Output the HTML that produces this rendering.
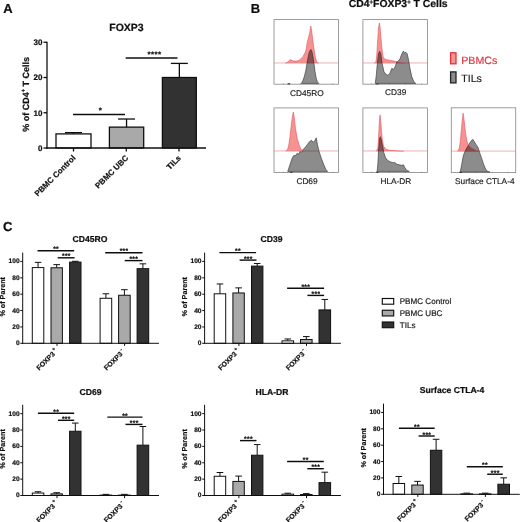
<!DOCTYPE html>
<html><head><meta charset="utf-8"><title>Figure</title>
<style>html,body{margin:0;padding:0;background:#fff;}body{width:520px;height:522px;overflow:hidden;font-family:"Liberation Sans", sans-serif;}svg{display:block;}</style>
</head><body>
<svg width="520" height="522" viewBox="0 0 520 522" font-family='"Liberation Sans", sans-serif' shape-rendering="geometricPrecision" text-rendering="geometricPrecision">
<rect width="520" height="522" fill="#fff"/>
<defs><filter id="soft" x="0" y="0" width="100%" height="100%" filterUnits="userSpaceOnUse"><feGaussianBlur stdDeviation="0.38"/></filter></defs>
<g filter="url(#soft)">
<rect width="520" height="522" fill="#fff"/>
<text x="3.3" y="13.1" font-size="13" font-weight="bold" text-anchor="start" fill="#111111" stroke="#111111" stroke-width="0.22" >A</text>
<text x="250.8" y="12.9" font-size="13" font-weight="bold" text-anchor="start" fill="#111111" stroke="#111111" stroke-width="0.22" >B</text>
<text x="3.1" y="230.9" font-size="13" font-weight="bold" text-anchor="start" fill="#111111" stroke="#111111" stroke-width="0.22" >C</text>
<text x="126.5" y="30.5" font-size="10.5" font-weight="bold" text-anchor="middle" fill="#111111" stroke="#111111" stroke-width="0.22" >FOXP3</text>
<line x1="73.5" y1="133.9" x2="73.5" y2="132.631" stroke="#111111" stroke-width="1.3" stroke-linecap="butt"/>
<line x1="65.0" y1="132.631" x2="82.0" y2="132.631" stroke="#111111" stroke-width="1.3" stroke-linecap="butt"/>
<rect x="56" y="133.90" width="35" height="14.10" fill="#ffffff" stroke="#111111" stroke-width="1.3"/>
<line x1="126.55" y1="127.132" x2="126.55" y2="119.0245" stroke="#111111" stroke-width="1.3" stroke-linecap="butt"/>
<line x1="118.05" y1="119.0245" x2="135.05" y2="119.0245" stroke="#111111" stroke-width="1.3" stroke-linecap="butt"/>
<rect x="109.4" y="127.13" width="34.29999999999998" height="20.87" fill="#a9a9a9" stroke="#111111" stroke-width="1.3"/>
<line x1="179.35000000000002" y1="77.5" x2="179.35000000000002" y2="63.4" stroke="#111111" stroke-width="1.3" stroke-linecap="butt"/>
<line x1="170.85000000000002" y1="63.4" x2="187.85000000000002" y2="63.4" stroke="#111111" stroke-width="1.3" stroke-linecap="butt"/>
<rect x="162.4" y="77.50" width="33.900000000000006" height="70.50" fill="#333333" stroke="#111111" stroke-width="1.3"/>
<line x1="47" y1="41.8" x2="47" y2="148.65" stroke="#111111" stroke-width="1.3" stroke-linecap="butt"/>
<line x1="46.35" y1="148" x2="206" y2="148" stroke="#111111" stroke-width="1.3" stroke-linecap="butt"/>
<line x1="43.5" y1="148.0" x2="47" y2="148.0" stroke="#111111" stroke-width="1.3" stroke-linecap="butt"/>
<text x="42.5" y="150.9" font-size="8" font-weight="bold" text-anchor="end" fill="#111111" stroke="#111111" stroke-width="0.22" >0</text>
<line x1="43.5" y1="112.75" x2="47" y2="112.75" stroke="#111111" stroke-width="1.3" stroke-linecap="butt"/>
<text x="42.5" y="115.65" font-size="8" font-weight="bold" text-anchor="end" fill="#111111" stroke="#111111" stroke-width="0.22" >10</text>
<line x1="43.5" y1="77.5" x2="47" y2="77.5" stroke="#111111" stroke-width="1.3" stroke-linecap="butt"/>
<text x="42.5" y="80.4" font-size="8" font-weight="bold" text-anchor="end" fill="#111111" stroke="#111111" stroke-width="0.22" >20</text>
<line x1="43.5" y1="42.25" x2="47" y2="42.25" stroke="#111111" stroke-width="1.3" stroke-linecap="butt"/>
<text x="42.5" y="45.15" font-size="8" font-weight="bold" text-anchor="end" fill="#111111" stroke="#111111" stroke-width="0.22" >30</text>
<line x1="73.5" y1="148" x2="73.5" y2="151.5" stroke="#111111" stroke-width="1.3" stroke-linecap="butt"/>
<line x1="126.3" y1="148" x2="126.3" y2="151.5" stroke="#111111" stroke-width="1.3" stroke-linecap="butt"/>
<line x1="179" y1="148" x2="179" y2="151.5" stroke="#111111" stroke-width="1.3" stroke-linecap="butt"/>
<text transform="translate(28.5,94.3) rotate(-90)" font-size="9" font-weight="bold" stroke="#111111" stroke-width="0.22" text-anchor="middle" fill="#111111">% of CD4<tspan font-size="5.5" dy="-3.5">+</tspan><tspan dy="3.5"> T Cells</tspan></text>
<text transform="translate(76.0,158.5) rotate(-45)" font-size="8" font-weight="bold" stroke="#111111" stroke-width="0.22" text-anchor="end" fill="#111111">PBMC Control</text>
<text transform="translate(128.8,158.5) rotate(-45)" font-size="8" font-weight="bold" stroke="#111111" stroke-width="0.22" text-anchor="end" fill="#111111">PBMC UBC</text>
<text transform="translate(181.5,158.5) rotate(-45)" font-size="8" font-weight="bold" stroke="#111111" stroke-width="0.22" text-anchor="end" fill="#111111">TILs</text>
<line x1="73" y1="114.5" x2="125" y2="114.5" stroke="#111111" stroke-width="1.5" stroke-linecap="butt"/>
<text x="100.4" y="112.9" font-size="8" font-weight="bold" text-anchor="middle" fill="#111111" stroke="#111111" stroke-width="0.22" >*</text>
<line x1="125.7" y1="58" x2="177.5" y2="58" stroke="#111111" stroke-width="1.5" stroke-linecap="butt"/>
<text x="154.6" y="56.8" font-size="8" font-weight="bold" text-anchor="middle" fill="#111111" stroke="#111111" stroke-width="0.22" letter-spacing="0.4">****</text>
<rect x="274" y="19.6" width="64.50" height="64.60" fill="#fff" stroke="#8c8c8c" stroke-width="0.85"/>
<g transform="translate(268,14) scale(0.14616)">
<rect x="102" y="475.3084" width="4" height="5" fill="#555"/>
<rect x="222" y="475.3084" width="4" height="5" fill="#555"/>
<rect x="332" y="475.3084" width="4" height="5" fill="#555"/>
<rect x="442" y="475.3084" width="4" height="5" fill="#555"/>
<rect x="134" y="474.3084" width="18" height="7" fill="#222"/>
<polygon points="228,475 238,458 248,430 258,390 270,320 282,262 293,243 300,255 306,285 314,335 322,395 330,440 338,465 348,475" fill="#8c8c8c" stroke="#3a3a3a" stroke-width="4.5" stroke-linejoin="round"/>
<g style="mix-blend-mode:multiply"><polygon points="120,337 135,328 152,312 165,318 175,322 195,322 215,316 240,290 255,262 262,240 268,195 275,170 285,130 293,82 300,125 306,175 312,220 318,262 325,300 335,330 345,337" fill="#f79292" stroke="none"/><line x1="43.1" y1="335" x2="480.4" y2="335" stroke="#e2787e" stroke-width="4"/></g>
<polyline points="120,337 135,328 152,312 165,318 175,322 195,322 215,316 240,290 255,262 262,240 268,195 275,170 285,130 293,82 300,125 306,175 312,220 318,262 325,300 335,330 345,337" fill="none" stroke="#e0525a" stroke-width="4" stroke-linejoin="round"/>
</g>
<text x="306.8" y="95.5" font-size="8.3" font-weight="normal" text-anchor="middle" fill="#222" stroke="#222" stroke-width="0.18" >CD45RO</text>
<rect x="362.9" y="19.6" width="64.50" height="64.60" fill="#fff" stroke="#8c8c8c" stroke-width="0.85"/>
<g transform="translate(357,14) scale(0.14616)">
<rect x="98" y="475.3084" width="4" height="5" fill="#555"/>
<rect x="218" y="475.3084" width="4" height="5" fill="#555"/>
<rect x="328" y="475.3084" width="4" height="5" fill="#555"/>
<rect x="438" y="475.3084" width="4" height="5" fill="#555"/>
<rect x="130" y="474.3084" width="18" height="7" fill="#222"/>
<polygon points="125,475 132,420 140,330 148,270 155,255 163,272 172,340 185,395 198,413 212,420 225,405 238,372 250,380 262,358 272,330 283,322 295,305 308,270 318,253 326,268 334,262 343,272 352,310 362,370 375,430 390,466 402,475" fill="#8c8c8c" stroke="#3a3a3a" stroke-width="4.5" stroke-linejoin="round"/>
<g style="mix-blend-mode:multiply"><polygon points="118,337 130,328 136,270 142,170 148,90 153,62 158,90 163,150 170,230 178,290 188,308 205,313 230,318 270,325 300,332 340,337" fill="#f79292" stroke="none"/><line x1="42.4" y1="335" x2="479.7" y2="335" stroke="#e2787e" stroke-width="4"/></g>
<polyline points="118,337 130,328 136,270 142,170 148,90 153,62 158,90 163,150 170,230 178,290 188,308 205,313 230,318 270,325 300,332 340,337" fill="none" stroke="#e0525a" stroke-width="4" stroke-linejoin="round"/>
</g>
<text x="395.7" y="95.4" font-size="8.3" font-weight="normal" text-anchor="middle" fill="#222" stroke="#222" stroke-width="0.18" >CD39</text>
<rect x="274" y="107.9" width="64.50" height="64.60" fill="#fff" stroke="#8c8c8c" stroke-width="0.85"/>
<g transform="translate(268,102) scale(0.14616)">
<rect x="102" y="477.361" width="4" height="5" fill="#555"/>
<rect x="222" y="477.361" width="4" height="5" fill="#555"/>
<rect x="332" y="477.361" width="4" height="5" fill="#555"/>
<rect x="442" y="477.361" width="4" height="5" fill="#555"/>
<rect x="150" y="476.361" width="18" height="7" fill="#222"/>
<polygon points="135,475 150,430 165,385 175,368 190,365 200,350 210,358 218,338 228,345 240,325 255,310 270,290 285,270 298,262 310,275 322,262 330,245 338,290 350,340 365,385 380,425 395,460 408,475" fill="#8c8c8c" stroke="#3a3a3a" stroke-width="4.5" stroke-linejoin="round"/>
<g style="mix-blend-mode:multiply"><polygon points="122,337 135,322 142,295 150,240 160,150 168,90 174,68 180,108 188,180 200,250 215,300 230,330 245,337" fill="#f79292" stroke="none"/><line x1="43.1" y1="335" x2="480.4" y2="335" stroke="#e2787e" stroke-width="4"/></g>
<polyline points="122,337 135,322 142,295 150,240 160,150 168,90 174,68 180,108 188,180 200,250 215,300 230,330 245,337" fill="none" stroke="#e0525a" stroke-width="4" stroke-linejoin="round"/>
</g>
<text x="307" y="183.7" font-size="8.3" font-weight="normal" text-anchor="middle" fill="#222" stroke="#222" stroke-width="0.18" >CD69</text>
<rect x="362.9" y="107.9" width="64.50" height="64.60" fill="#fff" stroke="#8c8c8c" stroke-width="0.85"/>
<g transform="translate(357,102) scale(0.14616)">
<rect x="98" y="477.361" width="4" height="5" fill="#555"/>
<rect x="218" y="477.361" width="4" height="5" fill="#555"/>
<rect x="328" y="477.361" width="4" height="5" fill="#555"/>
<rect x="438" y="477.361" width="4" height="5" fill="#555"/>
<rect x="130" y="476.361" width="18" height="7" fill="#222"/>
<polygon points="138,475 143,420 148,320 154,250 160,238 167,258 175,300 183,345 195,380 210,400 230,410 250,415 258,412 270,425 290,430 305,433 318,430 328,450 340,468 358,475" fill="#8c8c8c" stroke="#3a3a3a" stroke-width="4.5" stroke-linejoin="round"/>
<g style="mix-blend-mode:multiply"><polygon points="132,337 143,315 147,250 151,170 155,110 158,88 162,125 167,190 173,255 181,300 195,322 220,330 260,333 320,337" fill="#f79292" stroke="none"/><line x1="42.4" y1="335" x2="479.7" y2="335" stroke="#e2787e" stroke-width="4"/></g>
<polyline points="132,337 143,315 147,250 151,170 155,110 158,88 162,125 167,190 173,255 181,300 195,322 220,330 260,333 320,337" fill="none" stroke="#e0525a" stroke-width="4" stroke-linejoin="round"/>
</g>
<text x="395.9" y="183.7" font-size="8.3" font-weight="normal" text-anchor="middle" fill="#222" stroke="#222" stroke-width="0.18" >HLA-DR</text>
<rect x="451.3" y="107.8" width="64.40" height="64.80" fill="#fff" stroke="#8c8c8c" stroke-width="0.85"/>
<g transform="translate(446,102) scale(0.14231)">
<rect x="95" y="491.10619999999994" width="4" height="5" fill="#555"/>
<rect x="215" y="491.10619999999994" width="4" height="5" fill="#555"/>
<rect x="325" y="491.10619999999994" width="4" height="5" fill="#555"/>
<rect x="435" y="491.10619999999994" width="4" height="5" fill="#555"/>
<rect x="95" y="490.10619999999994" width="18" height="7" fill="#222"/>
<polygon points="100,492 110,440 122,375 135,345 148,320 160,300 175,275 188,262 200,280 212,300 225,320 238,360 252,400 265,440 280,475 295,489 308,492" fill="#8c8c8c" stroke="#3a3a3a" stroke-width="4.5" stroke-linejoin="round"/>
<g style="mix-blend-mode:multiply"><polygon points="82,347 93,325 100,280 106,215 112,150 120,78 127,125 133,180 140,235 148,278 160,305 180,322 200,332 220,341 238,347" fill="#f79292" stroke="none"/><line x1="39.2" y1="345" x2="487.8" y2="345" stroke="#e2787e" stroke-width="4"/></g>
<polyline points="82,347 93,325 100,280 106,215 112,150 120,78 127,125 133,180 140,235 148,278 160,305 180,322 200,332 220,341 238,347" fill="none" stroke="#e0525a" stroke-width="4" stroke-linejoin="round"/>
</g>
<text x="484.8" y="183.7" font-size="8.3" font-weight="normal" text-anchor="middle" fill="#222" stroke="#222" stroke-width="0.18" >Surface CTLA-4</text>
<text x="398.2" y="7.4" font-size="10.4" font-weight="bold" stroke="#111111" stroke-width="0.22" text-anchor="middle" fill="#111111">CD4<tspan font-size="6" dy="-3.2">+</tspan><tspan dy="3.2">FOXP3</tspan><tspan font-size="6" dy="-3.2">+</tspan><tspan dy="3.2"> T Cells</tspan></text>
<rect x="450.6" y="52.8" width="5.4" height="11" fill="#f6938f" stroke="#e0323c" stroke-width="1.3"/>
<text x="461.3" y="64" font-size="10.6" font-weight="normal" text-anchor="start" fill="#dc3540" stroke="#dc3540" stroke-width="0.18" >PBMCs</text>
<rect x="450.6" y="71.9" width="5.4" height="11" fill="#8c8c8c" stroke="#222" stroke-width="1.3"/>
<text x="461.3" y="82.2" font-size="10.6" font-weight="normal" text-anchor="start" fill="#222" stroke="#222" stroke-width="0.18" >TILs</text>
<text x="90" y="242.3" font-size="8.6" font-weight="bold" text-anchor="middle" fill="#111111" stroke="#111111" stroke-width="0.22" >CD45RO</text>
<line x1="38.05" y1="267.58875" x2="38.05" y2="262.35035" stroke="#111111" stroke-width="1.0" stroke-linecap="butt"/>
<line x1="34.75" y1="262.35035" x2="41.349999999999994" y2="262.35035" stroke="#111111" stroke-width="1.0" stroke-linecap="butt"/>
<rect x="32.30" y="267.59" width="11.50" height="75.71" fill="#ffffff" stroke="#111111" stroke-width="1.0"/>
<line x1="56.7" y1="267.75245" x2="56.7" y2="264.64215" stroke="#111111" stroke-width="1.0" stroke-linecap="butt"/>
<line x1="53.400000000000006" y1="264.64215" x2="60.0" y2="264.64215" stroke="#111111" stroke-width="1.0" stroke-linecap="butt"/>
<rect x="51.00" y="267.75" width="11.40" height="75.55" fill="#a9a9a9" stroke="#111111" stroke-width="1.0"/>
<line x1="75.3" y1="262.1048" x2="75.3" y2="261.28630000000004" stroke="#111111" stroke-width="1.0" stroke-linecap="butt"/>
<line x1="72.0" y1="261.28630000000004" x2="78.6" y2="261.28630000000004" stroke="#111111" stroke-width="1.0" stroke-linecap="butt"/>
<rect x="69.60" y="262.10" width="11.40" height="81.20" fill="#333333" stroke="#111111" stroke-width="1.0"/>
<line x1="105.9" y1="298.2825" x2="105.9" y2="293.78075" stroke="#111111" stroke-width="1.0" stroke-linecap="butt"/>
<line x1="102.60000000000001" y1="293.78075" x2="109.2" y2="293.78075" stroke="#111111" stroke-width="1.0" stroke-linecap="butt"/>
<rect x="100.10" y="298.28" width="11.60" height="45.02" fill="#ffffff" stroke="#111111" stroke-width="1.0"/>
<line x1="124.4" y1="295.25405" x2="124.4" y2="289.68825" stroke="#111111" stroke-width="1.0" stroke-linecap="butt"/>
<line x1="121.10000000000001" y1="289.68825" x2="127.7" y2="289.68825" stroke="#111111" stroke-width="1.0" stroke-linecap="butt"/>
<rect x="118.60" y="295.25" width="11.60" height="48.05" fill="#a9a9a9" stroke="#111111" stroke-width="1.0"/>
<line x1="142.89999999999998" y1="268.6528" x2="142.89999999999998" y2="263.82365" stroke="#111111" stroke-width="1.0" stroke-linecap="butt"/>
<line x1="139.59999999999997" y1="263.82365" x2="146.2" y2="263.82365" stroke="#111111" stroke-width="1.0" stroke-linecap="butt"/>
<rect x="137.10" y="268.65" width="11.60" height="74.65" fill="#333333" stroke="#111111" stroke-width="1.0"/>
<line x1="22.7" y1="252.60000000000002" x2="22.7" y2="343.8" stroke="#111111" stroke-width="1.0" stroke-linecap="butt"/>
<line x1="22.2" y1="343.3" x2="159.0" y2="343.3" stroke="#111111" stroke-width="1.0" stroke-linecap="butt"/>
<line x1="20.3" y1="343.3" x2="22.7" y2="343.3" stroke="#111111" stroke-width="1.0" stroke-linecap="butt"/>
<text x="19.599999999999998" y="345.25" font-size="6.6" font-weight="bold" text-anchor="end" fill="#111111" stroke="#111111" stroke-width="0.22" >0</text>
<line x1="20.3" y1="326.93" x2="22.7" y2="326.93" stroke="#111111" stroke-width="1.0" stroke-linecap="butt"/>
<text x="19.599999999999998" y="328.88" font-size="6.6" font-weight="bold" text-anchor="end" fill="#111111" stroke="#111111" stroke-width="0.22" >20</text>
<line x1="20.3" y1="310.56" x2="22.7" y2="310.56" stroke="#111111" stroke-width="1.0" stroke-linecap="butt"/>
<text x="19.599999999999998" y="312.51" font-size="6.6" font-weight="bold" text-anchor="end" fill="#111111" stroke="#111111" stroke-width="0.22" >40</text>
<line x1="20.3" y1="294.19" x2="22.7" y2="294.19" stroke="#111111" stroke-width="1.0" stroke-linecap="butt"/>
<text x="19.599999999999998" y="296.14" font-size="6.6" font-weight="bold" text-anchor="end" fill="#111111" stroke="#111111" stroke-width="0.22" >60</text>
<line x1="20.3" y1="277.82" x2="22.7" y2="277.82" stroke="#111111" stroke-width="1.0" stroke-linecap="butt"/>
<text x="19.599999999999998" y="279.77" font-size="6.6" font-weight="bold" text-anchor="end" fill="#111111" stroke="#111111" stroke-width="0.22" >80</text>
<line x1="20.3" y1="261.45000000000005" x2="22.7" y2="261.45000000000005" stroke="#111111" stroke-width="1.0" stroke-linecap="butt"/>
<text x="19.599999999999998" y="263.40000000000003" font-size="6.6" font-weight="bold" text-anchor="end" fill="#111111" stroke="#111111" stroke-width="0.22" >100</text>
<line x1="57.0" y1="343.3" x2="57.0" y2="345.90000000000003" stroke="#111111" stroke-width="1.0" stroke-linecap="butt"/>
<g transform="translate(55.40,354.60) rotate(-45)" font-weight="bold" fill="#111111" stroke="#111111" stroke-width="0.2"><text font-size="7" text-anchor="end">FOXP3</text><text x="1.3" y="-3.6" font-size="5">+</text></g>
<line x1="124.60000000000001" y1="343.3" x2="124.60000000000001" y2="345.90000000000003" stroke="#111111" stroke-width="1.0" stroke-linecap="butt"/>
<g transform="translate(123.00,354.60) rotate(-45)" font-weight="bold" fill="#111111" stroke="#111111" stroke-width="0.2"><text font-size="7" text-anchor="end">FOXP3</text><text x="1.3" y="-3.6" font-size="5">-</text></g>
<text transform="translate(5.00,296.80) rotate(-90)" font-size="7.2" font-weight="bold" stroke="#111111" stroke-width="0.2" text-anchor="middle" fill="#111111">% of Parent</text>
<line x1="37.5" y1="250.7" x2="74.2" y2="250.7" stroke="#111111" stroke-width="1.45" stroke-linecap="butt"/>
<text x="56.05" y="251.29999999999998" font-size="6.6" font-weight="bold" text-anchor="middle" fill="#111111" stroke="#111111" stroke-width="0.22" letter-spacing="0.35">**</text>
<line x1="57.7" y1="257.8" x2="74.6" y2="257.8" stroke="#111111" stroke-width="1.45" stroke-linecap="butt"/>
<text x="66.35000000000001" y="258.40000000000003" font-size="6.6" font-weight="bold" text-anchor="middle" fill="#111111" stroke="#111111" stroke-width="0.22" letter-spacing="0.35">***</text>
<line x1="105.2" y1="252.8" x2="142.5" y2="252.8" stroke="#111111" stroke-width="1.45" stroke-linecap="butt"/>
<text x="124.05000000000001" y="253.4" font-size="6.6" font-weight="bold" text-anchor="middle" fill="#111111" stroke="#111111" stroke-width="0.22" letter-spacing="0.35">***</text>
<line x1="124.7" y1="260.6" x2="142.5" y2="260.6" stroke="#111111" stroke-width="1.45" stroke-linecap="butt"/>
<text x="133.79999999999998" y="261.20000000000005" font-size="6.6" font-weight="bold" text-anchor="middle" fill="#111111" stroke="#111111" stroke-width="0.22" letter-spacing="0.35">***</text>
<text x="271.5" y="242.3" font-size="8.6" font-weight="bold" text-anchor="middle" fill="#111111" stroke="#111111" stroke-width="0.22" >CD39</text>
<line x1="219.95" y1="293.78075" x2="219.95" y2="283.95875" stroke="#111111" stroke-width="1.0" stroke-linecap="butt"/>
<line x1="216.64999999999998" y1="283.95875" x2="223.25" y2="283.95875" stroke="#111111" stroke-width="1.0" stroke-linecap="butt"/>
<rect x="214.20" y="293.78" width="11.50" height="49.52" fill="#ffffff" stroke="#111111" stroke-width="1.0"/>
<line x1="238.60000000000002" y1="292.96225000000004" x2="238.60000000000002" y2="287.88755000000003" stroke="#111111" stroke-width="1.0" stroke-linecap="butt"/>
<line x1="235.3" y1="287.88755000000003" x2="241.90000000000003" y2="287.88755000000003" stroke="#111111" stroke-width="1.0" stroke-linecap="butt"/>
<rect x="232.90" y="292.96" width="11.40" height="50.34" fill="#a9a9a9" stroke="#111111" stroke-width="1.0"/>
<line x1="257.2" y1="266.11545" x2="257.2" y2="263.49625000000003" stroke="#111111" stroke-width="1.0" stroke-linecap="butt"/>
<line x1="253.89999999999998" y1="263.49625000000003" x2="260.5" y2="263.49625000000003" stroke="#111111" stroke-width="1.0" stroke-linecap="butt"/>
<rect x="251.50" y="266.12" width="11.40" height="77.18" fill="#333333" stroke="#111111" stroke-width="1.0"/>
<line x1="287.8" y1="340.84450000000004" x2="287.8" y2="338.96195000000006" stroke="#111111" stroke-width="1.0" stroke-linecap="butt"/>
<line x1="284.5" y1="338.96195000000006" x2="291.1" y2="338.96195000000006" stroke="#111111" stroke-width="1.0" stroke-linecap="butt"/>
<rect x="282.00" y="340.84" width="11.60" height="2.46" fill="#ffffff" stroke="#111111" stroke-width="1.0"/>
<line x1="306.3" y1="339.5349" x2="306.3" y2="336.5883" stroke="#111111" stroke-width="1.0" stroke-linecap="butt"/>
<line x1="303.0" y1="336.5883" x2="309.6" y2="336.5883" stroke="#111111" stroke-width="1.0" stroke-linecap="butt"/>
<rect x="300.50" y="339.53" width="11.60" height="3.77" fill="#a9a9a9" stroke="#111111" stroke-width="1.0"/>
<line x1="324.8" y1="309.90520000000004" x2="324.8" y2="299.4284" stroke="#111111" stroke-width="1.0" stroke-linecap="butt"/>
<line x1="321.5" y1="299.4284" x2="328.1" y2="299.4284" stroke="#111111" stroke-width="1.0" stroke-linecap="butt"/>
<rect x="319.00" y="309.91" width="11.60" height="33.39" fill="#333333" stroke="#111111" stroke-width="1.0"/>
<line x1="204.6" y1="252.60000000000002" x2="204.6" y2="343.8" stroke="#111111" stroke-width="1.0" stroke-linecap="butt"/>
<line x1="204.1" y1="343.3" x2="340.9" y2="343.3" stroke="#111111" stroke-width="1.0" stroke-linecap="butt"/>
<line x1="202.2" y1="343.3" x2="204.6" y2="343.3" stroke="#111111" stroke-width="1.0" stroke-linecap="butt"/>
<text x="201.5" y="345.25" font-size="6.6" font-weight="bold" text-anchor="end" fill="#111111" stroke="#111111" stroke-width="0.22" >0</text>
<line x1="202.2" y1="326.93" x2="204.6" y2="326.93" stroke="#111111" stroke-width="1.0" stroke-linecap="butt"/>
<text x="201.5" y="328.88" font-size="6.6" font-weight="bold" text-anchor="end" fill="#111111" stroke="#111111" stroke-width="0.22" >20</text>
<line x1="202.2" y1="310.56" x2="204.6" y2="310.56" stroke="#111111" stroke-width="1.0" stroke-linecap="butt"/>
<text x="201.5" y="312.51" font-size="6.6" font-weight="bold" text-anchor="end" fill="#111111" stroke="#111111" stroke-width="0.22" >40</text>
<line x1="202.2" y1="294.19" x2="204.6" y2="294.19" stroke="#111111" stroke-width="1.0" stroke-linecap="butt"/>
<text x="201.5" y="296.14" font-size="6.6" font-weight="bold" text-anchor="end" fill="#111111" stroke="#111111" stroke-width="0.22" >60</text>
<line x1="202.2" y1="277.82" x2="204.6" y2="277.82" stroke="#111111" stroke-width="1.0" stroke-linecap="butt"/>
<text x="201.5" y="279.77" font-size="6.6" font-weight="bold" text-anchor="end" fill="#111111" stroke="#111111" stroke-width="0.22" >80</text>
<line x1="202.2" y1="261.45000000000005" x2="204.6" y2="261.45000000000005" stroke="#111111" stroke-width="1.0" stroke-linecap="butt"/>
<text x="201.5" y="263.40000000000003" font-size="6.6" font-weight="bold" text-anchor="end" fill="#111111" stroke="#111111" stroke-width="0.22" >100</text>
<line x1="238.89999999999998" y1="343.3" x2="238.89999999999998" y2="345.90000000000003" stroke="#111111" stroke-width="1.0" stroke-linecap="butt"/>
<g transform="translate(237.30,354.60) rotate(-45)" font-weight="bold" fill="#111111" stroke="#111111" stroke-width="0.2"><text font-size="7" text-anchor="end">FOXP3</text><text x="1.3" y="-3.6" font-size="5">+</text></g>
<line x1="306.5" y1="343.3" x2="306.5" y2="345.90000000000003" stroke="#111111" stroke-width="1.0" stroke-linecap="butt"/>
<g transform="translate(304.90,354.60) rotate(-45)" font-weight="bold" fill="#111111" stroke="#111111" stroke-width="0.2"><text font-size="7" text-anchor="end">FOXP3</text><text x="1.3" y="-3.6" font-size="5">-</text></g>
<text transform="translate(186.90,296.80) rotate(-90)" font-size="7.2" font-weight="bold" stroke="#111111" stroke-width="0.2" text-anchor="middle" fill="#111111">% of Parent</text>
<line x1="219.4" y1="252.6" x2="256.1" y2="252.6" stroke="#111111" stroke-width="1.45" stroke-linecap="butt"/>
<text x="237.95" y="253.2" font-size="6.6" font-weight="bold" text-anchor="middle" fill="#111111" stroke="#111111" stroke-width="0.22" letter-spacing="0.35">**</text>
<line x1="239.6" y1="260.1" x2="256.5" y2="260.1" stroke="#111111" stroke-width="1.45" stroke-linecap="butt"/>
<text x="248.25" y="260.70000000000005" font-size="6.6" font-weight="bold" text-anchor="middle" fill="#111111" stroke="#111111" stroke-width="0.22" letter-spacing="0.35">***</text>
<line x1="287.1" y1="288.2" x2="324.1" y2="288.2" stroke="#111111" stroke-width="1.45" stroke-linecap="butt"/>
<text x="305.8" y="288.8" font-size="6.6" font-weight="bold" text-anchor="middle" fill="#111111" stroke="#111111" stroke-width="0.22" letter-spacing="0.35">***</text>
<line x1="307.4" y1="295.4" x2="324.1" y2="295.4" stroke="#111111" stroke-width="1.45" stroke-linecap="butt"/>
<text x="315.95" y="296.0" font-size="6.6" font-weight="bold" text-anchor="middle" fill="#111111" stroke="#111111" stroke-width="0.22" letter-spacing="0.35">***</text>
<text x="90.5" y="394.5" font-size="8.6" font-weight="bold" text-anchor="middle" fill="#111111" stroke="#111111" stroke-width="0.22" >CD69</text>
<line x1="38.05" y1="493.0445" x2="38.05" y2="491.73490000000004" stroke="#111111" stroke-width="1.0" stroke-linecap="butt"/>
<line x1="34.75" y1="491.73490000000004" x2="41.349999999999994" y2="491.73490000000004" stroke="#111111" stroke-width="1.0" stroke-linecap="butt"/>
<rect x="32.30" y="493.04" width="11.50" height="2.46" fill="#ffffff" stroke="#111111" stroke-width="1.0"/>
<line x1="56.7" y1="493.863" x2="56.7" y2="492.7171" stroke="#111111" stroke-width="1.0" stroke-linecap="butt"/>
<line x1="53.400000000000006" y1="492.7171" x2="60.0" y2="492.7171" stroke="#111111" stroke-width="1.0" stroke-linecap="butt"/>
<rect x="51.00" y="493.86" width="11.40" height="1.64" fill="#a9a9a9" stroke="#111111" stroke-width="1.0"/>
<line x1="75.3" y1="431.24775" x2="75.3" y2="423.06275" stroke="#111111" stroke-width="1.0" stroke-linecap="butt"/>
<line x1="72.0" y1="423.06275" x2="78.6" y2="423.06275" stroke="#111111" stroke-width="1.0" stroke-linecap="butt"/>
<rect x="69.60" y="431.25" width="11.40" height="64.25" fill="#333333" stroke="#111111" stroke-width="1.0"/>
<line x1="105.9" y1="495.09075" x2="105.9" y2="494.3541" stroke="#111111" stroke-width="1.0" stroke-linecap="butt"/>
<line x1="102.60000000000001" y1="494.3541" x2="109.2" y2="494.3541" stroke="#111111" stroke-width="1.0" stroke-linecap="butt"/>
<rect x="100.10" y="495.09" width="11.60" height="0.41" fill="#ffffff" stroke="#111111" stroke-width="1.0"/>
<line x1="124.4" y1="495.09075" x2="124.4" y2="494.3541" stroke="#111111" stroke-width="1.0" stroke-linecap="butt"/>
<line x1="121.10000000000001" y1="494.3541" x2="127.7" y2="494.3541" stroke="#111111" stroke-width="1.0" stroke-linecap="butt"/>
<rect x="118.60" y="495.09" width="11.60" height="0.41" fill="#a9a9a9" stroke="#111111" stroke-width="1.0"/>
<line x1="142.89999999999998" y1="445.16225" x2="142.89999999999998" y2="426.50045" stroke="#111111" stroke-width="1.0" stroke-linecap="butt"/>
<line x1="139.59999999999997" y1="426.50045" x2="146.2" y2="426.50045" stroke="#111111" stroke-width="1.0" stroke-linecap="butt"/>
<rect x="137.10" y="445.16" width="11.60" height="50.34" fill="#333333" stroke="#111111" stroke-width="1.0"/>
<line x1="22.7" y1="404.8" x2="22.7" y2="496.0" stroke="#111111" stroke-width="1.0" stroke-linecap="butt"/>
<line x1="22.2" y1="495.5" x2="159.0" y2="495.5" stroke="#111111" stroke-width="1.0" stroke-linecap="butt"/>
<line x1="20.3" y1="495.5" x2="22.7" y2="495.5" stroke="#111111" stroke-width="1.0" stroke-linecap="butt"/>
<text x="19.599999999999998" y="497.45" font-size="6.6" font-weight="bold" text-anchor="end" fill="#111111" stroke="#111111" stroke-width="0.22" >0</text>
<line x1="20.3" y1="479.13" x2="22.7" y2="479.13" stroke="#111111" stroke-width="1.0" stroke-linecap="butt"/>
<text x="19.599999999999998" y="481.08" font-size="6.6" font-weight="bold" text-anchor="end" fill="#111111" stroke="#111111" stroke-width="0.22" >20</text>
<line x1="20.3" y1="462.76" x2="22.7" y2="462.76" stroke="#111111" stroke-width="1.0" stroke-linecap="butt"/>
<text x="19.599999999999998" y="464.71" font-size="6.6" font-weight="bold" text-anchor="end" fill="#111111" stroke="#111111" stroke-width="0.22" >40</text>
<line x1="20.3" y1="446.39" x2="22.7" y2="446.39" stroke="#111111" stroke-width="1.0" stroke-linecap="butt"/>
<text x="19.599999999999998" y="448.34" font-size="6.6" font-weight="bold" text-anchor="end" fill="#111111" stroke="#111111" stroke-width="0.22" >60</text>
<line x1="20.3" y1="430.02" x2="22.7" y2="430.02" stroke="#111111" stroke-width="1.0" stroke-linecap="butt"/>
<text x="19.599999999999998" y="431.96999999999997" font-size="6.6" font-weight="bold" text-anchor="end" fill="#111111" stroke="#111111" stroke-width="0.22" >80</text>
<line x1="20.3" y1="413.65" x2="22.7" y2="413.65" stroke="#111111" stroke-width="1.0" stroke-linecap="butt"/>
<text x="19.599999999999998" y="415.59999999999997" font-size="6.6" font-weight="bold" text-anchor="end" fill="#111111" stroke="#111111" stroke-width="0.22" >100</text>
<line x1="57.0" y1="495.5" x2="57.0" y2="498.1" stroke="#111111" stroke-width="1.0" stroke-linecap="butt"/>
<g transform="translate(55.40,506.80) rotate(-45)" font-weight="bold" fill="#111111" stroke="#111111" stroke-width="0.2"><text font-size="7" text-anchor="end">FOXP3</text><text x="1.3" y="-3.6" font-size="5">+</text></g>
<line x1="124.60000000000001" y1="495.5" x2="124.60000000000001" y2="498.1" stroke="#111111" stroke-width="1.0" stroke-linecap="butt"/>
<g transform="translate(123.00,506.80) rotate(-45)" font-weight="bold" fill="#111111" stroke="#111111" stroke-width="0.2"><text font-size="7" text-anchor="end">FOXP3</text><text x="1.3" y="-3.6" font-size="5">-</text></g>
<text transform="translate(5.00,449.00) rotate(-90)" font-size="7.2" font-weight="bold" stroke="#111111" stroke-width="0.2" text-anchor="middle" fill="#111111">% of Parent</text>
<line x1="37.9" y1="413.3" x2="74.2" y2="413.3" stroke="#111111" stroke-width="1.45" stroke-linecap="butt"/>
<text x="56.25" y="413.90000000000003" font-size="6.6" font-weight="bold" text-anchor="middle" fill="#111111" stroke="#111111" stroke-width="0.22" letter-spacing="0.35">**</text>
<line x1="58.0" y1="420.3" x2="74.2" y2="420.3" stroke="#111111" stroke-width="1.45" stroke-linecap="butt"/>
<text x="66.3" y="420.90000000000003" font-size="6.6" font-weight="bold" text-anchor="middle" fill="#111111" stroke="#111111" stroke-width="0.22" letter-spacing="0.35">***</text>
<line x1="107.3" y1="417.1" x2="142.5" y2="417.1" stroke="#111111" stroke-width="1.45" stroke-linecap="butt"/>
<text x="125.1" y="417.70000000000005" font-size="6.6" font-weight="bold" text-anchor="middle" fill="#111111" stroke="#111111" stroke-width="0.22" letter-spacing="0.35">**</text>
<line x1="125.5" y1="424.4" x2="142.5" y2="424.4" stroke="#111111" stroke-width="1.45" stroke-linecap="butt"/>
<text x="134.2" y="425.0" font-size="6.6" font-weight="bold" text-anchor="middle" fill="#111111" stroke="#111111" stroke-width="0.22" letter-spacing="0.35">***</text>
<text x="272" y="394.5" font-size="8.6" font-weight="bold" text-anchor="middle" fill="#111111" stroke="#111111" stroke-width="0.22" >HLA-DR</text>
<line x1="219.95" y1="476.26525" x2="219.95" y2="472.50014999999996" stroke="#111111" stroke-width="1.0" stroke-linecap="butt"/>
<line x1="216.64999999999998" y1="472.50014999999996" x2="223.25" y2="472.50014999999996" stroke="#111111" stroke-width="1.0" stroke-linecap="butt"/>
<rect x="214.20" y="476.27" width="11.50" height="19.23" fill="#ffffff" stroke="#111111" stroke-width="1.0"/>
<line x1="238.60000000000002" y1="481.4218" x2="238.60000000000002" y2="476.10155000000003" stroke="#111111" stroke-width="1.0" stroke-linecap="butt"/>
<line x1="235.3" y1="476.10155000000003" x2="241.90000000000003" y2="476.10155000000003" stroke="#111111" stroke-width="1.0" stroke-linecap="butt"/>
<rect x="232.90" y="481.42" width="11.40" height="14.08" fill="#a9a9a9" stroke="#111111" stroke-width="1.0"/>
<line x1="257.2" y1="455.2298" x2="257.2" y2="444.58930000000004" stroke="#111111" stroke-width="1.0" stroke-linecap="butt"/>
<line x1="253.89999999999998" y1="444.58930000000004" x2="260.5" y2="444.58930000000004" stroke="#111111" stroke-width="1.0" stroke-linecap="butt"/>
<rect x="251.50" y="455.23" width="11.40" height="40.27" fill="#333333" stroke="#111111" stroke-width="1.0"/>
<line x1="287.8" y1="494.1904" x2="287.8" y2="493.20820000000003" stroke="#111111" stroke-width="1.0" stroke-linecap="butt"/>
<line x1="284.5" y1="493.20820000000003" x2="291.1" y2="493.20820000000003" stroke="#111111" stroke-width="1.0" stroke-linecap="butt"/>
<rect x="282.00" y="494.19" width="11.60" height="1.31" fill="#ffffff" stroke="#111111" stroke-width="1.0"/>
<line x1="306.3" y1="494.5178" x2="306.3" y2="493.61745" stroke="#111111" stroke-width="1.0" stroke-linecap="butt"/>
<line x1="303.0" y1="493.61745" x2="309.6" y2="493.61745" stroke="#111111" stroke-width="1.0" stroke-linecap="butt"/>
<rect x="300.50" y="494.52" width="11.60" height="0.98" fill="#a9a9a9" stroke="#111111" stroke-width="1.0"/>
<line x1="324.8" y1="482.64955" x2="324.8" y2="472.17274999999995" stroke="#111111" stroke-width="1.0" stroke-linecap="butt"/>
<line x1="321.5" y1="472.17274999999995" x2="328.1" y2="472.17274999999995" stroke="#111111" stroke-width="1.0" stroke-linecap="butt"/>
<rect x="319.00" y="482.65" width="11.60" height="12.85" fill="#333333" stroke="#111111" stroke-width="1.0"/>
<line x1="204.6" y1="404.8" x2="204.6" y2="496.0" stroke="#111111" stroke-width="1.0" stroke-linecap="butt"/>
<line x1="204.1" y1="495.5" x2="340.9" y2="495.5" stroke="#111111" stroke-width="1.0" stroke-linecap="butt"/>
<line x1="202.2" y1="495.5" x2="204.6" y2="495.5" stroke="#111111" stroke-width="1.0" stroke-linecap="butt"/>
<text x="201.5" y="497.45" font-size="6.6" font-weight="bold" text-anchor="end" fill="#111111" stroke="#111111" stroke-width="0.22" >0</text>
<line x1="202.2" y1="479.13" x2="204.6" y2="479.13" stroke="#111111" stroke-width="1.0" stroke-linecap="butt"/>
<text x="201.5" y="481.08" font-size="6.6" font-weight="bold" text-anchor="end" fill="#111111" stroke="#111111" stroke-width="0.22" >20</text>
<line x1="202.2" y1="462.76" x2="204.6" y2="462.76" stroke="#111111" stroke-width="1.0" stroke-linecap="butt"/>
<text x="201.5" y="464.71" font-size="6.6" font-weight="bold" text-anchor="end" fill="#111111" stroke="#111111" stroke-width="0.22" >40</text>
<line x1="202.2" y1="446.39" x2="204.6" y2="446.39" stroke="#111111" stroke-width="1.0" stroke-linecap="butt"/>
<text x="201.5" y="448.34" font-size="6.6" font-weight="bold" text-anchor="end" fill="#111111" stroke="#111111" stroke-width="0.22" >60</text>
<line x1="202.2" y1="430.02" x2="204.6" y2="430.02" stroke="#111111" stroke-width="1.0" stroke-linecap="butt"/>
<text x="201.5" y="431.96999999999997" font-size="6.6" font-weight="bold" text-anchor="end" fill="#111111" stroke="#111111" stroke-width="0.22" >80</text>
<line x1="202.2" y1="413.65" x2="204.6" y2="413.65" stroke="#111111" stroke-width="1.0" stroke-linecap="butt"/>
<text x="201.5" y="415.59999999999997" font-size="6.6" font-weight="bold" text-anchor="end" fill="#111111" stroke="#111111" stroke-width="0.22" >100</text>
<line x1="238.89999999999998" y1="495.5" x2="238.89999999999998" y2="498.1" stroke="#111111" stroke-width="1.0" stroke-linecap="butt"/>
<g transform="translate(237.30,506.80) rotate(-45)" font-weight="bold" fill="#111111" stroke="#111111" stroke-width="0.2"><text font-size="7" text-anchor="end">FOXP3</text><text x="1.3" y="-3.6" font-size="5">+</text></g>
<line x1="306.5" y1="495.5" x2="306.5" y2="498.1" stroke="#111111" stroke-width="1.0" stroke-linecap="butt"/>
<g transform="translate(304.90,506.80) rotate(-45)" font-weight="bold" fill="#111111" stroke="#111111" stroke-width="0.2"><text font-size="7" text-anchor="end">FOXP3</text><text x="1.3" y="-3.6" font-size="5">-</text></g>
<text transform="translate(186.90,449.00) rotate(-90)" font-size="7.2" font-weight="bold" stroke="#111111" stroke-width="0.2" text-anchor="middle" fill="#111111">% of Parent</text>
<line x1="240.0" y1="440.6" x2="256.5" y2="440.6" stroke="#111111" stroke-width="1.45" stroke-linecap="butt"/>
<text x="248.45" y="441.20000000000005" font-size="6.6" font-weight="bold" text-anchor="middle" fill="#111111" stroke="#111111" stroke-width="0.22" letter-spacing="0.35">***</text>
<line x1="287.1" y1="461.5" x2="323.8" y2="461.5" stroke="#111111" stroke-width="1.45" stroke-linecap="butt"/>
<text x="305.65" y="462.1" font-size="6.6" font-weight="bold" text-anchor="middle" fill="#111111" stroke="#111111" stroke-width="0.22" letter-spacing="0.35">**</text>
<line x1="307.3" y1="468.7" x2="323.8" y2="468.7" stroke="#111111" stroke-width="1.45" stroke-linecap="butt"/>
<text x="315.75" y="469.3" font-size="6.6" font-weight="bold" text-anchor="middle" fill="#111111" stroke="#111111" stroke-width="0.22" letter-spacing="0.35">***</text>
<text x="452" y="393.3" font-size="8.6" font-weight="bold" text-anchor="middle" fill="#111111" stroke="#111111" stroke-width="0.22" >Surface CTLA-4</text>
<line x1="398.85" y1="483.49580000000003" x2="398.85" y2="476.4567" stroke="#111111" stroke-width="1.0" stroke-linecap="butt"/>
<line x1="395.55" y1="476.4567" x2="402.15000000000003" y2="476.4567" stroke="#111111" stroke-width="1.0" stroke-linecap="butt"/>
<rect x="393.10" y="483.50" width="11.50" height="10.80" fill="#ffffff" stroke="#111111" stroke-width="1.0"/>
<line x1="417.5" y1="485.05095" x2="417.5" y2="481.3677" stroke="#111111" stroke-width="1.0" stroke-linecap="butt"/>
<line x1="414.2" y1="481.3677" x2="420.8" y2="481.3677" stroke="#111111" stroke-width="1.0" stroke-linecap="butt"/>
<rect x="411.80" y="485.05" width="11.40" height="9.25" fill="#a9a9a9" stroke="#111111" stroke-width="1.0"/>
<line x1="436.1" y1="450.2647" x2="436.1" y2="439.2968" stroke="#111111" stroke-width="1.0" stroke-linecap="butt"/>
<line x1="432.8" y1="439.2968" x2="439.40000000000003" y2="439.2968" stroke="#111111" stroke-width="1.0" stroke-linecap="butt"/>
<rect x="430.40" y="450.26" width="11.40" height="44.04" fill="#333333" stroke="#111111" stroke-width="1.0"/>
<line x1="466.7" y1="493.89075" x2="466.7" y2="493.1541" stroke="#111111" stroke-width="1.0" stroke-linecap="butt"/>
<line x1="463.4" y1="493.1541" x2="470.0" y2="493.1541" stroke="#111111" stroke-width="1.0" stroke-linecap="butt"/>
<rect x="460.90" y="493.89" width="11.60" height="0.41" fill="#ffffff" stroke="#111111" stroke-width="1.0"/>
<line x1="485.2" y1="493.89075" x2="485.2" y2="493.1541" stroke="#111111" stroke-width="1.0" stroke-linecap="butt"/>
<line x1="481.9" y1="493.1541" x2="488.5" y2="493.1541" stroke="#111111" stroke-width="1.0" stroke-linecap="butt"/>
<rect x="479.40" y="493.89" width="11.60" height="0.41" fill="#a9a9a9" stroke="#111111" stroke-width="1.0"/>
<line x1="503.7" y1="484.23245000000003" x2="503.7" y2="477.84815000000003" stroke="#111111" stroke-width="1.0" stroke-linecap="butt"/>
<line x1="500.4" y1="477.84815000000003" x2="507.0" y2="477.84815000000003" stroke="#111111" stroke-width="1.0" stroke-linecap="butt"/>
<rect x="497.90" y="484.23" width="11.60" height="10.07" fill="#333333" stroke="#111111" stroke-width="1.0"/>
<line x1="383.5" y1="403.6" x2="383.5" y2="494.8" stroke="#111111" stroke-width="1.0" stroke-linecap="butt"/>
<line x1="383.0" y1="494.3" x2="519.8" y2="494.3" stroke="#111111" stroke-width="1.0" stroke-linecap="butt"/>
<line x1="381.1" y1="494.3" x2="383.5" y2="494.3" stroke="#111111" stroke-width="1.0" stroke-linecap="butt"/>
<text x="380.4" y="496.25" font-size="6.6" font-weight="bold" text-anchor="end" fill="#111111" stroke="#111111" stroke-width="0.22" >0</text>
<line x1="381.1" y1="477.93" x2="383.5" y2="477.93" stroke="#111111" stroke-width="1.0" stroke-linecap="butt"/>
<text x="380.4" y="479.88" font-size="6.6" font-weight="bold" text-anchor="end" fill="#111111" stroke="#111111" stroke-width="0.22" >20</text>
<line x1="381.1" y1="461.56" x2="383.5" y2="461.56" stroke="#111111" stroke-width="1.0" stroke-linecap="butt"/>
<text x="380.4" y="463.51" font-size="6.6" font-weight="bold" text-anchor="end" fill="#111111" stroke="#111111" stroke-width="0.22" >40</text>
<line x1="381.1" y1="445.19" x2="383.5" y2="445.19" stroke="#111111" stroke-width="1.0" stroke-linecap="butt"/>
<text x="380.4" y="447.14" font-size="6.6" font-weight="bold" text-anchor="end" fill="#111111" stroke="#111111" stroke-width="0.22" >60</text>
<line x1="381.1" y1="428.82" x2="383.5" y2="428.82" stroke="#111111" stroke-width="1.0" stroke-linecap="butt"/>
<text x="380.4" y="430.77" font-size="6.6" font-weight="bold" text-anchor="end" fill="#111111" stroke="#111111" stroke-width="0.22" >80</text>
<line x1="381.1" y1="412.45000000000005" x2="383.5" y2="412.45000000000005" stroke="#111111" stroke-width="1.0" stroke-linecap="butt"/>
<text x="380.4" y="414.40000000000003" font-size="6.6" font-weight="bold" text-anchor="end" fill="#111111" stroke="#111111" stroke-width="0.22" >100</text>
<line x1="417.8" y1="494.3" x2="417.8" y2="496.90000000000003" stroke="#111111" stroke-width="1.0" stroke-linecap="butt"/>
<g transform="translate(416.20,505.60) rotate(-45)" font-weight="bold" fill="#111111" stroke="#111111" stroke-width="0.2"><text font-size="7" text-anchor="end">FOXP3</text><text x="1.3" y="-3.6" font-size="5">+</text></g>
<line x1="485.4" y1="494.3" x2="485.4" y2="496.90000000000003" stroke="#111111" stroke-width="1.0" stroke-linecap="butt"/>
<g transform="translate(483.80,505.60) rotate(-45)" font-weight="bold" fill="#111111" stroke="#111111" stroke-width="0.2"><text font-size="7" text-anchor="end">FOXP3</text><text x="1.3" y="-3.6" font-size="5">-</text></g>
<text transform="translate(365.80,447.80) rotate(-90)" font-size="7.2" font-weight="bold" stroke="#111111" stroke-width="0.2" text-anchor="middle" fill="#111111">% of Parent</text>
<line x1="398.9" y1="428.3" x2="434.7" y2="428.3" stroke="#111111" stroke-width="1.45" stroke-linecap="butt"/>
<text x="417.0" y="428.90000000000003" font-size="6.6" font-weight="bold" text-anchor="middle" fill="#111111" stroke="#111111" stroke-width="0.22" letter-spacing="0.35">**</text>
<line x1="418.6" y1="436" x2="434.7" y2="436" stroke="#111111" stroke-width="1.45" stroke-linecap="butt"/>
<text x="426.84999999999997" y="436.6" font-size="6.6" font-weight="bold" text-anchor="middle" fill="#111111" stroke="#111111" stroke-width="0.22" letter-spacing="0.35">***</text>
<line x1="466.8" y1="466.7" x2="502.8" y2="466.7" stroke="#111111" stroke-width="1.45" stroke-linecap="butt"/>
<text x="485.0" y="467.3" font-size="6.6" font-weight="bold" text-anchor="middle" fill="#111111" stroke="#111111" stroke-width="0.22" letter-spacing="0.35">**</text>
<line x1="487.2" y1="474.2" x2="502.8" y2="474.2" stroke="#111111" stroke-width="1.45" stroke-linecap="butt"/>
<text x="495.2" y="474.8" font-size="6.6" font-weight="bold" text-anchor="middle" fill="#111111" stroke="#111111" stroke-width="0.22" letter-spacing="0.35">***</text>
<rect x="382.3" y="298.5" width="11.4" height="5.7" fill="#ffffff" stroke="#111111" stroke-width="1.15"/>
<text x="399.7" y="304.4" font-size="8.1" font-weight="normal" text-anchor="start" fill="#161616" stroke="#161616" stroke-width="0.18" >PBMC Control</text>
<rect x="382.3" y="310.25" width="11.4" height="5.7" fill="#a9a9a9" stroke="#111111" stroke-width="1.15"/>
<text x="399.7" y="316.15" font-size="8.1" font-weight="normal" text-anchor="start" fill="#161616" stroke="#161616" stroke-width="0.18" >PBMC UBC</text>
<rect x="382.3" y="322.0" width="11.4" height="5.7" fill="#333333" stroke="#111111" stroke-width="1.15"/>
<text x="399.7" y="327.9" font-size="8.1" font-weight="normal" text-anchor="start" fill="#161616" stroke="#161616" stroke-width="0.18" >TILs</text>
</g>
</svg>
</body></html>
